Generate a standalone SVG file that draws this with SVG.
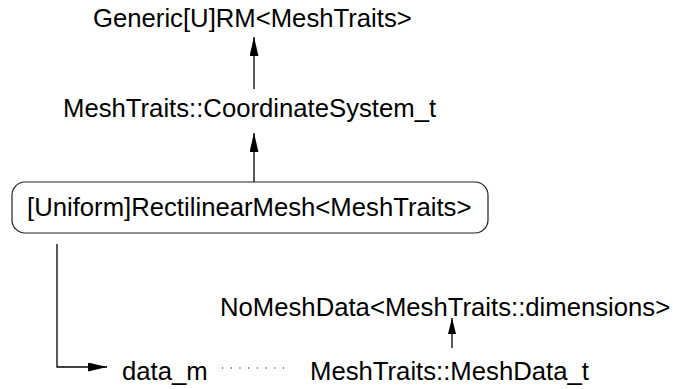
<svg xmlns="http://www.w3.org/2000/svg" width="673" height="389" viewBox="0 0 673 389">
  <style>
    text { font-family: "Liberation Sans", Arial, Helvetica, sans-serif; font-size: 25.7px; fill: #000; }
    .edge { fill: none; stroke: #000; stroke-width: 1.3; }
    .dots { fill: none; stroke: #000; stroke-width: 1.1; stroke-dasharray: 1.1 7.6; }
    .box { fill: #fff; stroke: #222; stroke-width: 1.2; }
  </style>
  <defs>
    <marker id="head" markerUnits="userSpaceOnUse" markerWidth="20" markerHeight="10" refX="19" refY="4.5" orient="auto">
      <path d="M0,0 L19,4.5 L0,9 z" fill="#000"/>
    </marker>
    <marker id="headSmall" markerUnits="userSpaceOnUse" markerWidth="17" markerHeight="9" refX="16" refY="4" orient="auto">
      <path d="M0,0 L16,4 L0,8 z" fill="#000"/>
    </marker>
  </defs>

  <g id="connectors">
    <line class="edge" x1="254" y1="89" x2="254" y2="37" marker-end="url(#head)"/>
    <line class="edge" x1="254" y1="182" x2="254" y2="133" marker-end="url(#head)"/>
    <path class="edge" d="M57,244 V367 H107" marker-end="url(#head)"/>
    <line class="edge" x1="452" y1="348" x2="452" y2="318" marker-end="url(#headSmall)"/>
    <line class="dots" x1="222" y1="368" x2="285" y2="368"/>
  </g>

  <g id="generic-rm">
    <text x="93" y="27">Generic[U]RM&lt;MeshTraits&gt;</text>
  </g>

  <g id="coordinate-system">
    <text x="63" y="117">MeshTraits::CoordinateSystem_t</text>
  </g>

  <g id="rectilinear-mesh">
    <rect class="box" x="12" y="182" width="476" height="51" rx="13" ry="13"/>
    <text x="27" y="216">[Uniform]RectilinearMesh&lt;MeshTraits&gt;</text>
  </g>

  <g id="no-mesh-data">
    <text x="220" y="316">NoMeshData&lt;MeshTraits::dimensions&gt;</text>
  </g>

  <g id="data-m">
    <text x="122" y="380">data_m</text>
  </g>

  <g id="mesh-data-t">
    <text x="310" y="380">MeshTraits::MeshData_t</text>
  </g>
</svg>
